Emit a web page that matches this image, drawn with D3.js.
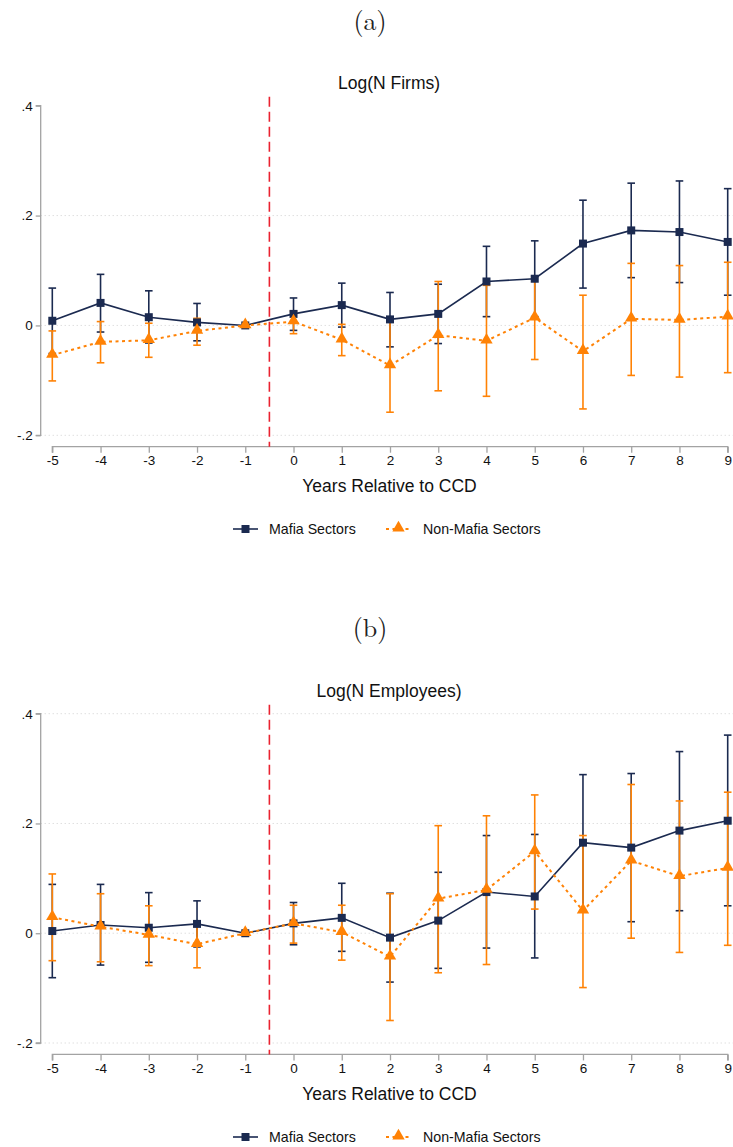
<!DOCTYPE html>
<html>
<head>
<meta charset="utf-8">
<script src="https://cdn.jsdelivr.net/npm/d3@7"></script>
<style>
  html, body { margin: 0; padding: 0; background: #fff; }
  svg { display: block; }
</style>
</head>
<body>
<svg id="chart" width="733" height="1147"></svg>
<script>
// Event-time axis: years relative to the CCD
const years = [-5, -4, -3, -2, -1, 0, 1, 2, 3, 4, 5, 6, 7, 8, 9];
const yTicks = [-0.2, 0, 0.2, 0.4];
const yTickLabels = ["-.2", "0", ".2", ".4"];
const seriesNames = ["Mafia Sectors", "Non-Mafia Sectors"];

// Panel (a): Log(N Firms) — point estimates and 95% CI bounds
const firmsMafia   = [0.0085, 0.041, 0.015, 0.0055, 0, 0.021, 0.037, 0.011, 0.021, 0.080, 0.085, 0.149, 0.173, 0.170, 0.152];
const firmsMafiaLo = [-0.051, -0.012, -0.032, -0.028, null, -0.009, -0.003, -0.039, -0.033, 0.016, 0.016, 0.068, 0.087, 0.078, 0.055];
const firmsMafiaHi = [0.068, 0.093, 0.063, 0.040, null, 0.050, 0.077, 0.060, 0.075, 0.144, 0.154, 0.228, 0.259, 0.263, 0.249];
const firmsNon     = [-0.054, -0.030, -0.027, -0.010, 0, 0.007, -0.026, -0.073, -0.018, -0.028, 0.014, -0.047, 0.012, 0.010, 0.016];
const firmsNonLo   = [-0.101, -0.068, -0.058, -0.036, null, -0.015, -0.055, -0.158, -0.119, -0.129, -0.062, -0.152, -0.091, -0.094, -0.086];
const firmsNonHi   = [-0.010, 0.007, 0.004, 0.013, null, 0.026, 0.002, 0.012, 0.080, 0.073, 0.089, 0.055, 0.113, 0.109, 0.115];

// Panel (b): Log(N Employees)
const empMafia   = [0.004, 0.015, 0.010, 0.017, 0, 0.018, 0.028, -0.008, 0.023, 0.075, 0.067, 0.165, 0.156, 0.187, 0.205];
const empMafiaLo = [-0.081, -0.058, -0.053, -0.025, null, -0.021, -0.033, -0.089, -0.064, -0.027, -0.045, 0.041, 0.021, 0.041, 0.050];
const empMafiaHi = [0.089, 0.089, 0.074, 0.059, null, 0.056, 0.091, 0.073, 0.111, 0.178, 0.180, 0.289, 0.291, 0.331, 0.361];
const empNon     = [0.029, 0.012, -0.003, -0.020, 0, 0.018, 0.002, -0.043, 0.063, 0.079, 0.149, 0.041, 0.132, 0.104, 0.119];
const empNonLo   = [-0.050, -0.052, -0.059, -0.063, null, -0.018, -0.049, -0.159, -0.072, -0.057, 0.044, -0.099, -0.009, -0.035, -0.022];
const empNonHi   = [0.108, 0.072, 0.050, 0.021, null, 0.051, 0.051, 0.072, 0.196, 0.214, 0.252, 0.178, 0.271, 0.241, 0.257];

const NAVY = "#1b2a50";
const ORANGE = "#ff8205";
const RED = "#ea2230";
const AXIS = "#a3a3a3";
const SANS = "'Liberation Sans', Arial, sans-serif";

const svg = d3.select("#chart");

const x = d3.scaleLinear().domain([-5, 9]).range([52.3, 727.7]);

function drawPanel(opts) {
  const g = svg.append("g");
  const y = d3.scaleLinear().domain([-0.2, 0.4]).range([opts.yBottom, opts.yTop]);
  const yAxisX = 40.7;
  const xAxisY = opts.yBottom + 11.4;

  // panel letter
  g.append("text").attr("x", 370).attr("y", opts.letterY)
    .attr("text-anchor", "middle")
    .style("font-family", "'Latin Modern Roman', 'CMU Serif', 'Liberation Serif', 'DejaVu Serif', serif")
    .style("font-size", "26px").attr("fill", "#222").text(opts.letter);

  // chart title
  g.append("text").attr("x", 389).attr("y", opts.titleY)
    .attr("text-anchor", "middle")
    .style("font-family", SANS).style("font-size", "17.5px")
    .attr("fill", "#111").text(opts.title);

  // dotted horizontal gridlines
  g.selectAll(".grid").data(opts.gridVals).join("line")
    .attr("x1", yAxisX).attr("x2", 733)
    .attr("y1", d => y(d)).attr("y2", d => y(d))
    .attr("stroke", "#d0d0d0").attr("stroke-width", 1)
    .attr("stroke-dasharray", "1,3");

  // y axis
  const yAxis = d3.axisLeft(y).tickValues(yTicks)
    .tickFormat((d, i) => yTickLabels[i]).tickSize(5).tickPadding(3);
  const ya = g.append("g").attr("transform", `translate(${yAxisX},0)`).call(yAxis);
  ya.select(".domain").attr("stroke", AXIS).attr("stroke-width", 1.3)
    .attr("d", `M-5,${y(0.4)}H0V${y(-0.2)}H-5`);
  ya.selectAll(".tick line").attr("stroke", AXIS).attr("stroke-width", 1.3);
  ya.selectAll(".tick text").style("font-family", SANS).style("font-size", "13.5px")
    .attr("fill", "#111");

  // x axis (plain hyphen for negative years)
  const xAxis = d3.axisBottom(x).tickValues(years).tickFormat(d => String(d))
    .tickSize(6).tickPadding(3);
  const xa = g.append("g").attr("transform", `translate(0,${xAxisY})`).call(xAxis);
  xa.select(".domain").attr("stroke", AXIS).attr("stroke-width", 1.3)
    .attr("d", `M${x(-5)},6V0H${x(9)}V6`);
  xa.selectAll(".tick line").attr("stroke", AXIS).attr("stroke-width", 1.3);
  xa.selectAll(".tick text").style("font-family", SANS).style("font-size", "13.5px")
    .attr("fill", "#111");

  // x axis title
  g.append("text").attr("x", 389.5).attr("y", opts.xTitleY)
    .attr("text-anchor", "middle")
    .style("font-family", SANS).style("font-size", "17.5px")
    .attr("fill", "#111").text("Years Relative to CCD");

  // event line between -1 and 0
  g.append("line").attr("x1", x(-0.5)).attr("x2", x(-0.5))
    .attr("y1", opts.yTop - 9).attr("y2", xAxisY)
    .attr("stroke", RED).attr("stroke-width", 1.6).attr("stroke-dasharray", "10,5");

  const series = [
    { est: opts.mafia, lo: opts.mafiaLo, hi: opts.mafiaHi, color: NAVY, dash: null, width: 1.6, shape: "square" },
    { est: opts.non, lo: opts.nonLo, hi: opts.nonHi, color: ORANGE, dash: "3,3.5", width: 2, shape: "triangle" }
  ];

  // confidence intervals
  series.forEach(s => {
    const rows = years.map((yr, i) => ({ yr, lo: s.lo[i], hi: s.hi[i] })).filter(r => r.lo !== null);
    const ci = g.append("g").attr("stroke", s.color).attr("stroke-width", 1.6).attr("fill", "none");
    ci.selectAll(".v").data(rows).join("line")
      .attr("x1", d => x(d.yr)).attr("x2", d => x(d.yr))
      .attr("y1", d => y(d.lo)).attr("y2", d => y(d.hi));
    ci.selectAll(".ch").data(rows).join("line")
      .attr("x1", d => x(d.yr) - 3.8).attr("x2", d => x(d.yr) + 3.8)
      .attr("y1", d => y(d.hi)).attr("y2", d => y(d.hi));
    ci.selectAll(".cl").data(rows).join("line")
      .attr("x1", d => x(d.yr) - 3.8).attr("x2", d => x(d.yr) + 3.8)
      .attr("y1", d => y(d.lo)).attr("y2", d => y(d.lo));
  });

  // connecting lines and markers
  series.forEach(s => {
    const line = d3.line().x((d, i) => x(years[i])).y(d => y(d));
    g.append("path").datum(s.est).attr("d", line)
      .attr("fill", "none").attr("stroke", s.color).attr("stroke-width", s.width)
      .attr("stroke-dasharray", s.dash);
    const sym = s.shape === "square"
      ? d3.symbol().type(d3.symbolSquare).size(64)
      : d3.symbol().type(d3.symbolTriangle).size(66);
    g.selectAll(null).data(s.est).join("path")
      .attr("d", sym)
      .attr("transform", (d, i) => `translate(${x(years[i])},${y(d) + (s.shape === "triangle" ? -0.8 : 0)})`)
      .attr("fill", s.color);
  });

  // legend
  const lg = g.append("g").attr("transform", `translate(0,${opts.legendY})`);
  lg.append("line").attr("x1", 233).attr("x2", 258).attr("y1", 0).attr("y2", 0)
    .attr("stroke", NAVY).attr("stroke-width", 1.6);
  lg.append("path").attr("d", d3.symbol().type(d3.symbolSquare).size(64))
    .attr("transform", "translate(245.5,0)").attr("fill", NAVY);
  lg.append("text").attr("x", 269).attr("y", 5)
    .style("font-family", SANS).style("font-size", "14.2px").attr("fill", "#111")
    .text(seriesNames[0]);
  lg.append("line").attr("x1", 386).attr("x2", 412).attr("y1", 0).attr("y2", 0)
    .attr("stroke", ORANGE).attr("stroke-width", 2).attr("stroke-dasharray", "3,3.5");
  lg.append("path").attr("d", d3.symbol().type(d3.symbolTriangle).size(66))
    .attr("transform", "translate(398.5,-1)").attr("fill", ORANGE);
  lg.append("text").attr("x", 423).attr("y", 5)
    .style("font-family", SANS).style("font-size", "14.2px").attr("fill", "#111")
    .text(seriesNames[1]);
}

drawPanel({
  letter: "(a)", letterY: 30, title: "Log(N Firms)", titleY: 89,
  yTop: 105.7, yBottom: 435.3, gridVals: [0.2, 0, -0.2],
  xTitleY: 492, legendY: 529,
  mafia: firmsMafia, mafiaLo: firmsMafiaLo, mafiaHi: firmsMafiaHi,
  non: firmsNon, nonLo: firmsNonLo, nonHi: firmsNonHi
});

drawPanel({
  letter: "(b)", letterY: 637, title: "Log(N Employees)", titleY: 697,
  yTop: 713.7, yBottom: 1043, gridVals: [0.4, 0.2, 0, -0.2],
  xTitleY: 1100, legendY: 1137,
  mafia: empMafia, mafiaLo: empMafiaLo, mafiaHi: empMafiaHi,
  non: empNon, nonLo: empNonLo, nonHi: empNonHi
});
</script>
</body>
</html>
